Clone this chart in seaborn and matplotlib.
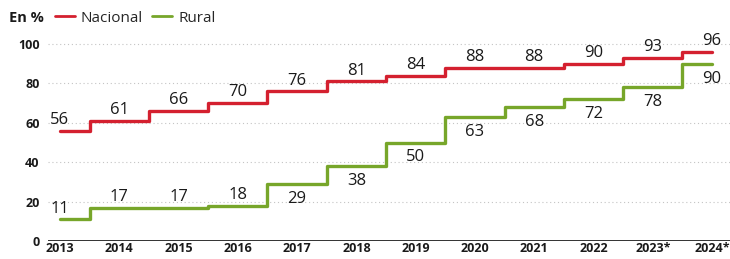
"""Step chart: Nacional vs Rural, 2013-2024."""
import numpy as np
import pandas as pd
import matplotlib
matplotlib.use('Agg')
import matplotlib.pyplot as plt
import seaborn as sns
from matplotlib.lines import Line2D

years = [2013, 2014, 2015, 2016, 2017, 2018, 2019, 2020, 2021, 2022, 2023, 2024]
year_labels = ['2013', '2014', '2015', '2016', '2017', '2018', '2019', '2020',
               '2021', '2022', '2023*', '2024*']
nacional = [56, 61, 66, 70, 76, 81, 84, 88, 88, 90, 93, 96]
rural = [11, 17, 17, 18, 29, 38, 50, 63, 68, 72, 78, 90]
rural_below = [False, False, False, False, True, True, True, True, True, True, True, True]

RED = '#d4202f'
GREEN = '#77a62a'

df = pd.DataFrame({
    'year': years * 2,
    'value': nacional + rural,
    'serie': ['Nacional'] * len(years) + ['Rural'] * len(years),
})

sns.set_theme(style='white')
plt.rcParams['font.family'] = ['Open Sans', 'DejaVu Sans']

fig = plt.figure(figsize=(7.30, 2.59), dpi=100)
ax = fig.add_axes([0.0658, 0.0695, 0.934, 0.7758])

sns.lineplot(data=df, x='year', y='value', hue='serie',
             palette={'Nacional': RED, 'Rural': GREEN},
             drawstyle='steps-mid', linewidth=2.4, legend=False, ax=ax)

ax.set_xlim(2012.8, 2024.3)
ax.set_ylim(0, 102)
ax.set_yticks([0, 20, 40, 60, 80, 100])
ax.set_xticks(years)
ax.set_xticklabels(year_labels)
ax.tick_params(axis='both', length=0, labelsize=9, colors='#1a1a1a')
ax.tick_params(axis='x', pad=1)
ax.tick_params(axis='y', pad=6)
for lbl in ax.get_xticklabels() + ax.get_yticklabels():
    lbl.set_fontweight('bold')
ax.set_xlabel('')
ax.set_ylabel('')

for y in [20, 40, 60, 80, 100]:
    ax.axhline(y, color='#c4c4c4', linestyle=(0, (1, 2.5)), linewidth=0.8, zorder=0)
ax.axhline(0, color='#222222', linewidth=1.3, zorder=1)
sns.despine(ax=ax, left=True, bottom=True)

label_kw = dict(textcoords='offset points', ha='center', fontsize=12,
                fontweight='medium', color='#1a1a1a')
for x, v in zip(years, nacional):
    ax.annotate(str(v), (x, v), xytext=(0, 2), va='bottom', **label_kw)
for x, v, below in zip(years, rural, rural_below):
    if below:
        ax.annotate(str(v), (x, v), xytext=(0, -5), va='top', **label_kw)
    else:
        ax.annotate(str(v), (x, v), xytext=(0, 2), va='bottom', **label_kw)

fig.text(0.012, 0.93, 'En %', fontsize=10.5, fontweight='bold',
         color='#1a1a1a', va='center')
handles = [Line2D([], [], color=RED, linewidth=2),
           Line2D([], [], color=GREEN, linewidth=2)]
leg = fig.legend(handles, ['Nacional', 'Rural'], ncol=2, loc='center left',
                 bbox_to_anchor=(0.075, 0.93), frameon=False, fontsize=11,
                 handlelength=1.3, handletextpad=0.4, columnspacing=0.6,
                 borderpad=0, borderaxespad=0)
for t in leg.get_texts():
    t.set_fontweight('medium')

fig.savefig('out.png', dpi=100)
